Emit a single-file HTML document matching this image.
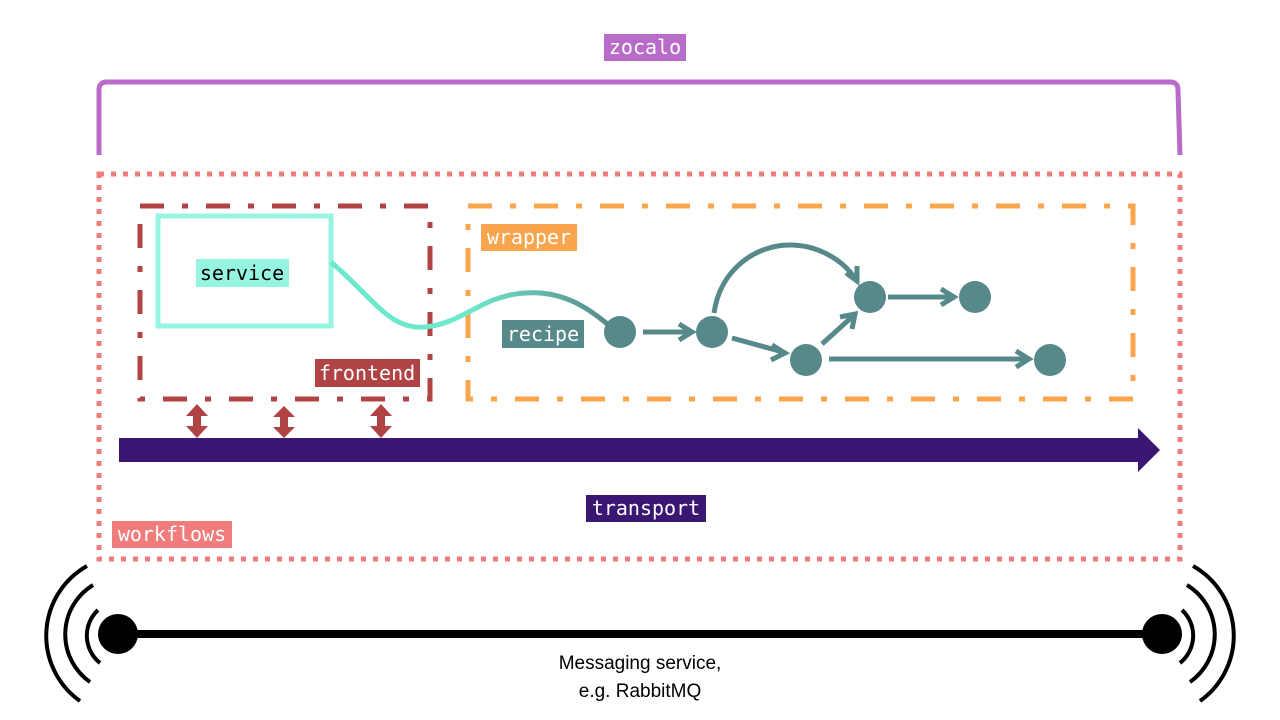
<!DOCTYPE html>
<html><head><meta charset="utf-8"><style>
body{margin:0;background:#fff;width:1280px;height:720px;overflow:hidden}
svg{display:block}
.m{font-family:"DejaVu Sans Mono","Liberation Mono",monospace;font-size:20px}
.s{font-family:"Liberation Sans",sans-serif;font-size:19px}
</style></head><body>
<svg width="1280" height="720" viewBox="0 0 1280 720">
<path d="M99,155 L99,90 Q99,82 107,82 L1170,82 Q1178,82 1178,90 L1180,155" fill="none" stroke="#b86bc8" stroke-width="5"/>
<rect x="604" y="34" width="82" height="27" fill="#b86bc8"/>
<text x="645" y="54" class="m" fill="#fff" text-anchor="middle">zocalo</text>
<rect x="99" y="174" width="1081" height="385" fill="none" stroke="#f07c7c" stroke-width="5" stroke-dasharray="5 7"/>
<rect x="112" y="521" width="120" height="27" fill="#f07c7c"/>
<text x="172" y="541" class="m" fill="#fff" text-anchor="middle">workflows</text>
<rect x="140" y="206" width="290" height="193" fill="none" stroke="#b04444" stroke-width="5" stroke-dasharray="24 18 6 18"/>
<rect x="315" y="359" width="105" height="28" fill="#b04444"/>
<text x="367" y="380" class="m" fill="#fff" text-anchor="middle">frontend</text>
<rect x="158" y="216" width="173" height="110" fill="none" stroke="#96f5e0" stroke-width="5"/>
<rect x="196" y="259" width="93" height="28" fill="#96f5e0"/>
<text x="242" y="280" class="m" fill="#000" text-anchor="middle">service</text>
<rect x="468" y="206" width="665" height="193" fill="none" stroke="#f8a54e" stroke-width="5" stroke-dasharray="24 18 6 18"/>
<rect x="481" y="224" width="96" height="27" fill="#f8a54e"/>
<text x="529" y="244" class="m" fill="#fff" text-anchor="middle">wrapper</text>
<defs><linearGradient id="g" x1="331" y1="0" x2="610" y2="0" gradientUnits="userSpaceOnUse"><stop offset="0" stop-color="#6ee8cc"/><stop offset="0.5" stop-color="#6ee8cc"/><stop offset="1" stop-color="#57888a"/></linearGradient></defs>
<path d="M331,262 C375,300 390,330 425,327 C465,323 480,296 525,293 C565,290 590,310 610,326" fill="none" stroke="url(#g)" stroke-width="5"/>
<rect x="502" y="320" width="82" height="28" fill="#57888a"/>
<text x="543" y="341" class="m" fill="#fff" text-anchor="middle">recipe</text>
<g fill="#57888a">
<circle cx="620" cy="332" r="16"/><circle cx="712" cy="332" r="16"/><circle cx="806" cy="360" r="16"/>
<circle cx="870" cy="297" r="16"/><circle cx="975" cy="297" r="16"/><circle cx="1050" cy="360" r="16"/>
</g>
<g fill="none" stroke="#57888a" stroke-width="5" stroke-linecap="butt">
<line x1="643" y1="332" x2="690" y2="332"/><polyline points="679,324 692,332 679,340"/>
<line x1="732" y1="338" x2="783" y2="352"/><polyline points="772,345 785,353 771,360"/>
<line x1="822" y1="344" x2="853" y2="316"/><polyline points="840,317 855,314 852,329"/>
<line x1="888" y1="297" x2="952" y2="297"/><polyline points="941,289 954,297 941,305"/>
<line x1="829" y1="359" x2="1027" y2="359"/><polyline points="1016,351 1029,359 1016,367"/>
<path d="M714,313 C720,270 755,245 790,245 C820,245 845,262 856,280"/><polyline points="846,273 857,281 857,266"/>
</g>
<g fill="#b04444">
<path d="M197,404 L208,416 L201,416 L201,426 L208,426 L197,438 L186,426 L193,426 L193,416 L186,416 Z"/>
<path d="M284,406 L295,417 L288,417 L288,427 L295,427 L284,438 L273,427 L280,427 L280,417 L273,417 Z"/>
<path d="M381,404 L392,416 L385,416 L385,426 L392,426 L381,438 L370,426 L377,426 L377,416 L370,416 Z"/>
</g>
<path d="M119,438 L1138,438 L1138,428 L1160,450 L1138,472 L1138,462 L119,462 Z" fill="#3b1672"/>
<rect x="586" y="495" width="120" height="27" fill="#3b1672"/>
<text x="646" y="515" class="m" fill="#fff" text-anchor="middle">transport</text>
<line x1="118" y1="634" x2="1162" y2="634" stroke="#000" stroke-width="8"/>
<circle cx="118" cy="634" r="20" fill="#000"/>
<circle cx="1162" cy="634" r="20" fill="#000"/>
<g fill="none" stroke="#000" stroke-width="4">
<path d="M98,610 A35,35 0 0 0 100,663"/>
<path d="M93,585 A58,58 0 0 0 90,682"/>
<path d="M87,566 A80,80 0 0 0 80,701"/>
<path d="M1182,610 A35,35 0 0 1 1180,663"/>
<path d="M1187,585 A58,58 0 0 1 1190,682"/>
<path d="M1193,566 A80,80 0 0 1 1200,701"/>
</g>
<text x="640" y="669" class="s" text-anchor="middle">Messaging service,</text>
<text x="640" y="697" class="s" text-anchor="middle">e.g. RabbitMQ</text>
</svg>
</body></html>
